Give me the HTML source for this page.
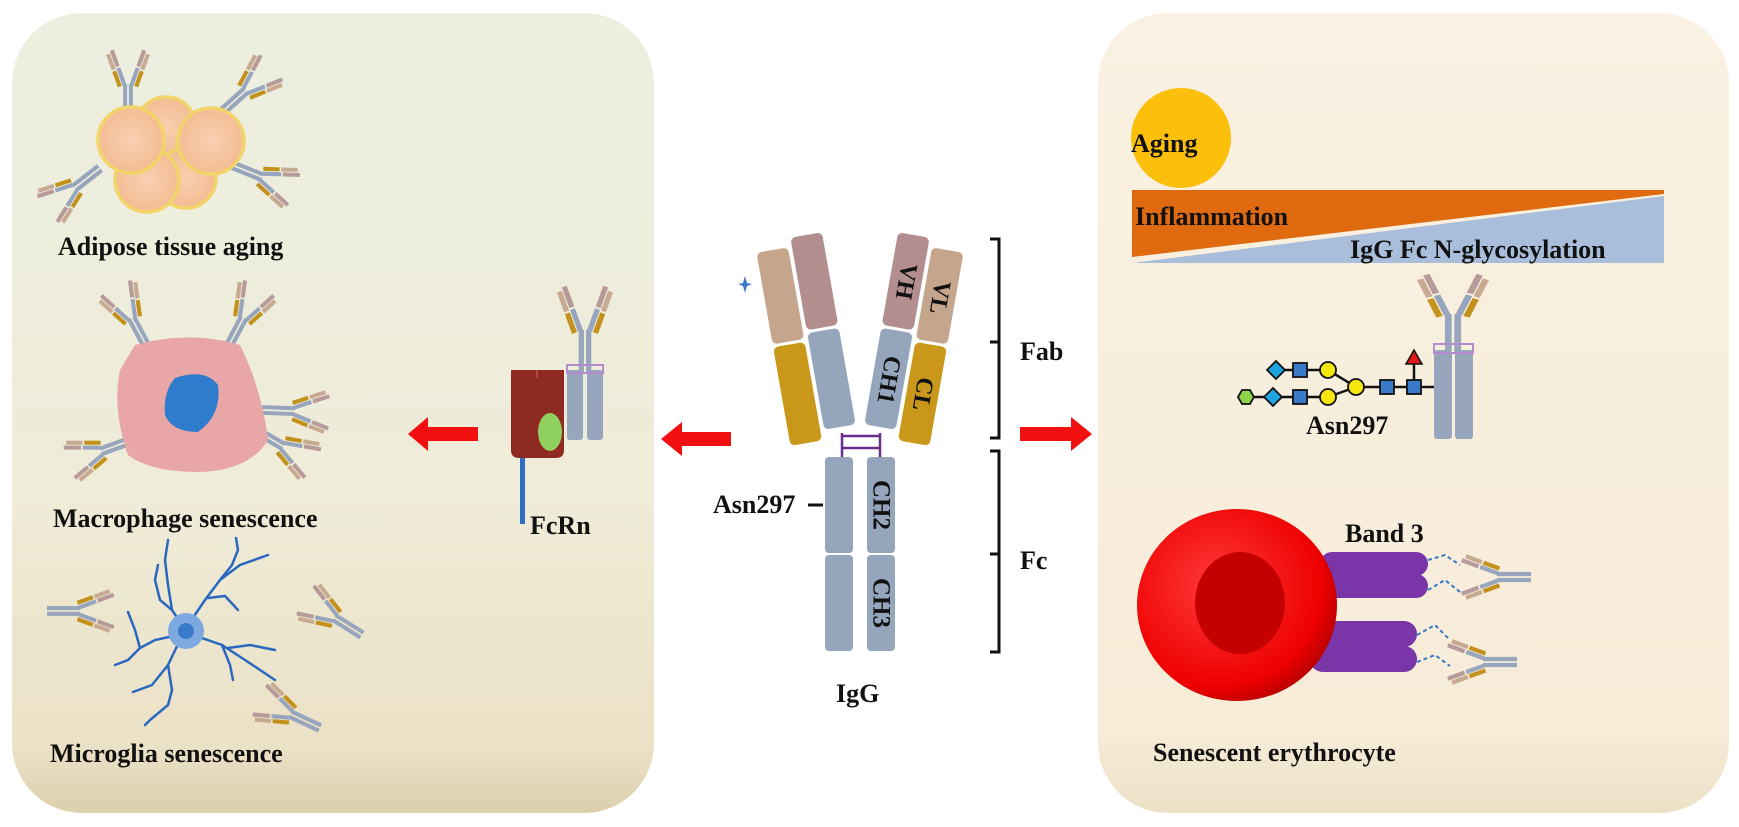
<!DOCTYPE html>
<html><head><meta charset="utf-8"><style>
html,body{margin:0;padding:0;background:#fff;}
svg{display:block;}
text{font-family:"Liberation Serif",serif;font-weight:bold;fill:#111;}
</style></head><body>
<svg width="1739" height="827" viewBox="0 0 1739 827" xmlns="http://www.w3.org/2000/svg">
<defs>
<linearGradient id="lg" x1="0" y1="0" x2="0" y2="1">
<stop offset="0" stop-color="#ecefe0"/><stop offset="0.6" stop-color="#efecd8"/><stop offset="0.92" stop-color="#ebe1c6"/><stop offset="1" stop-color="#dccfad"/>
</linearGradient>
<linearGradient id="rg" x1="0" y1="0" x2="0" y2="1">
<stop offset="0" stop-color="#fbf1e2"/><stop offset="0.9" stop-color="#f6ecd8"/><stop offset="1" stop-color="#ece0c6"/>
</linearGradient>
<radialGradient id="rbc" cx="0.4" cy="0.4" r="0.7">
<stop offset="0" stop-color="#ff3a3a"/><stop offset="0.75" stop-color="#ee0000"/><stop offset="1" stop-color="#a00000"/>
</radialGradient>
<radialGradient id="fat" cx="0.5" cy="0.5" r="0.6">
<stop offset="0" stop-color="#f8cfb3"/><stop offset="1" stop-color="#f3b98d"/>
</radialGradient>
<g id="ab">
 <rect x="-6" y="-40" width="5" height="40" fill="#97a6bd"/>
 <rect x="1" y="-40" width="5" height="40" fill="#97a6bd"/>
 <g transform="translate(-2,-40) rotate(-20)">
  <rect x="-5" y="-22" width="5" height="22" fill="#97a6bd"/>
  <rect x="-5" y="-45" width="5" height="21" fill="#b79b9b"/>
  <rect x="-11" y="-20" width="5" height="20" fill="#c4911c"/>
  <rect x="-11" y="-42" width="5" height="20" fill="#c8aa92"/>
 </g>
 <g transform="translate(2,-40) rotate(20)">
  <rect x="0" y="-22" width="5" height="22" fill="#97a6bd"/>
  <rect x="0" y="-45" width="5" height="21" fill="#b79b9b"/>
  <rect x="6" y="-20" width="5" height="20" fill="#c4911c"/>
  <rect x="6" y="-42" width="5" height="20" fill="#c8aa92"/>
 </g>
</g>
</defs>

<!-- panels -->
<rect x="12" y="13" width="642" height="800" rx="70" fill="url(#lg)"/>
<rect x="1098" y="13" width="631" height="800" rx="70" fill="url(#rg)"/>

<!-- adipose -->
<use href="#ab" transform="translate(128,117) scale(0.82)"/>
<use href="#ab" transform="translate(222,112) rotate(48) scale(0.82)"/>
<use href="#ab" transform="translate(232,165) rotate(112) scale(0.82)"/>
<use href="#ab" transform="translate(100,168) rotate(-128) scale(0.82)"/>
<g stroke="#f2d46a" stroke-width="3.5" fill="url(#fat)">
<circle cx="166" cy="127" r="30"/>
<circle cx="186" cy="178" r="30"/>
<circle cx="147" cy="180" r="32"/>
<circle cx="131" cy="140" r="33"/>
<circle cx="211" cy="141" r="33"/>
</g>
<text x="58" y="255" font-size="26">Adipose tissue aging</text>

<!-- macrophage -->
<use href="#ab" transform="translate(147,347) rotate(-28) scale(0.82)"/>
<use href="#ab" transform="translate(228,347) rotate(28) scale(0.82)"/>
<use href="#ab" transform="translate(262,410) rotate(92) scale(0.82)"/>
<use href="#ab" transform="translate(255,430) rotate(120) scale(0.82)"/>
<use href="#ab" transform="translate(132,440) rotate(-110) scale(0.82)"/>
<path d="M135 345 Q190 330 240 345 Q262 390 268 440 Q250 470 200 472 Q150 472 128 455 Q112 410 120 370 Z" fill="#e8a6a6"/>
<path d="M175 378 Q205 368 218 385 Q222 415 198 432 Q172 432 165 415 Q163 392 175 378 Z" fill="#2f7ccc"/>
<text x="53" y="527" font-size="26">Macrophage senescence</text>

<!-- microglia -->
<g stroke="#2a68c0" stroke-width="2.5" fill="none" stroke-linecap="round">
<path d="M186 631 L172 610 L168 585 L165 560 L168 540"/>
<path d="M172 610 L160 600 L155 580 L158 565"/>
<path d="M186 628 L205 600 L220 580 L240 565 L268 555"/>
<path d="M220 580 L232 565 L238 550 L236 538"/>
<path d="M208 598 L225 596 L238 610"/>
<path d="M178 635 L155 640 L140 648 L128 660 L115 665"/>
<path d="M140 648 L135 630 L128 612"/>
<path d="M180 640 L168 665 L152 685 L133 692"/>
<path d="M168 665 L172 690 L168 705 L150 720 L145 725"/>
<path d="M196 636 L222 645 L245 660 L275 680"/>
<path d="M228 648 L250 645 L275 650"/>
<path d="M222 645 L230 665 L233 680"/>
</g>
<circle cx="186" cy="631" r="18" fill="#7ea9e0"/>
<circle cx="186" cy="631" r="8" fill="#3a7acb"/>
<use href="#ab" transform="translate(47,611) rotate(90) scale(0.82)"/>
<use href="#ab" transform="translate(362,635) rotate(-58) scale(0.82)"/>
<use href="#ab" transform="translate(320,728) rotate(-65) scale(0.82)"/>
<text x="50" y="762" font-size="26">Microglia senescence</text>

<!-- FcRn -->
<use href="#ab" transform="translate(585,372) scale(1.05)"/>
<rect x="567" y="370" width="16" height="70" rx="3" fill="#97a6bd"/>
<rect x="587" y="370" width="16" height="70" rx="3" fill="#97a6bd"/>
<rect x="567" y="365" width="36" height="8" fill="none" stroke="#b58bd0" stroke-width="2"/>
<path d="M511 370 L564 370 L564 450 Q564 458 556 458 L519 458 Q511 458 511 450 Z" fill="#8e2a22"/>
<line x1="537" y1="370" x2="537" y2="378" stroke="#b04a40" stroke-width="2"/>
<rect x="520" y="458" width="5" height="66" fill="#2f6fbf"/>
<ellipse cx="550" cy="432" rx="12" ry="19" fill="#8fd060"/>
<text x="530" y="534" font-size="26">FcRn</text>

<!-- arrows -->
<polygon points="478,427 428,427 428,417 408,434 428,451 428,441 478,441" fill="#f20f0f"/>
<polygon points="731,432 682,432 682,422 661,439 682,456 682,446 731,446" fill="#f20f0f"/>
<polygon points="1020,427 1071,427 1071,417 1092,434 1071,451 1071,441 1020,441" fill="#f20f0f"/>

<!-- central IgG -->
<g transform="translate(824,440) rotate(-10)">
 <rect x="-34" y="-100" width="32" height="100" rx="5" fill="#c9981a"/>
 <rect x="-34" y="-196" width="32" height="93" rx="5" fill="#c5a58c"/>
 <rect x="2" y="-108" width="32" height="98" rx="5" fill="#95a5bb"/>
 <rect x="2" y="-205" width="32" height="94" rx="5" fill="#b38e8e"/>
</g>
<g transform="translate(896,440) rotate(10)">
 <rect x="2" y="-100" width="32" height="100" rx="5" fill="#c9981a"/>
 <rect x="2" y="-196" width="32" height="93" rx="5" fill="#c5a58c"/>
 <rect x="-34" y="-108" width="32" height="98" rx="5" fill="#95a5bb"/>
 <rect x="-34" y="-205" width="32" height="94" rx="5" fill="#b38e8e"/>
 <text transform="translate(-18,-158) rotate(90)" font-size="24" text-anchor="middle" dominant-baseline="central">VH</text>
 <text transform="translate(18,-148) rotate(90)" font-size="24" text-anchor="middle" dominant-baseline="central">VL</text>
 <text transform="translate(-18,-58) rotate(90)" font-size="24" text-anchor="middle" dominant-baseline="central">CH1</text>
 <text transform="translate(18,-50) rotate(90)" font-size="24" text-anchor="middle" dominant-baseline="central">CL</text>
</g>
<g stroke="#6a2c8c" stroke-width="2.5" fill="none">
<line x1="842" y1="433" x2="842" y2="458"/><line x1="880" y1="433" x2="880" y2="458"/>
<line x1="842" y1="436" x2="880" y2="436"/><line x1="842" y1="448" x2="880" y2="448"/>
</g>
<rect x="825" y="457" width="28" height="96" rx="4" fill="#95a5bb"/>
<rect x="825" y="555" width="28" height="96" rx="4" fill="#95a5bb"/>
<rect x="867" y="457" width="28" height="96" rx="4" fill="#95a5bb"/>
<rect x="867" y="555" width="28" height="96" rx="4" fill="#95a5bb"/>
<text transform="translate(881,505) rotate(90)" font-size="25" text-anchor="middle" dominant-baseline="central">CH2</text>
<text transform="translate(881,603) rotate(90)" font-size="25" text-anchor="middle" dominant-baseline="central">CH3</text>
<text x="713" y="513" font-size="26">Asn297</text>
<line x1="808" y1="505" x2="823" y2="505" stroke="#111" stroke-width="3"/>
<path d="M745 276 L747 283 L752 284 L747 286 L745 293 L743 286 L738 284 L743 283 Z" fill="#3a79c9"/>
<g stroke="#111" stroke-width="3" fill="none">
<path d="M990 239 L999 239 L999 438 L990 438"/><line x1="990" y1="342" x2="999" y2="342"/>
<path d="M990 451 L999 451 L999 652 L990 652"/><line x1="990" y1="554" x2="999" y2="554"/>
</g>
<text x="1020" y="360" font-size="26">Fab</text>
<text x="1020" y="569" font-size="26">Fc</text>
<text x="836" y="702" font-size="26">IgG</text>

<!-- right panel -->
<circle cx="1181" cy="138" r="50" fill="#fcbf0c"/>
<text x="1131" y="152" font-size="26">Aging</text>
<polygon points="1132,190 1664,190 1664,194 1132,257" fill="#e06a10"/>
<polygon points="1132,263 1664,196 1664,263" fill="#a9bedb"/>
<text x="1135" y="225" font-size="26">Inflammation</text>
<text x="1350" y="258" font-size="26">IgG Fc N-glycosylation</text>

<use href="#ab" transform="translate(1453,352) scale(1.35,0.95)"/>
<rect x="1434" y="350" width="18" height="89" rx="3" fill="#97a6bd"/>
<rect x="1455" y="350" width="18" height="89" rx="3" fill="#97a6bd"/>
<rect x="1434" y="344" width="39" height="9" fill="none" stroke="#b58bd0" stroke-width="2"/>
<!-- glycan -->
<g stroke="#111" stroke-width="2.5">
<line x1="1245" y1="397" x2="1330" y2="397"/>
<line x1="1276" y1="370" x2="1330" y2="370"/>
<line x1="1328" y1="370" x2="1356" y2="387"/>
<line x1="1328" y1="397" x2="1356" y2="387"/>
<line x1="1356" y1="387" x2="1434" y2="387"/>
<line x1="1414" y1="387" x2="1414" y2="364"/>
</g>
<polygon points="1414,350 1422,364 1406,364" fill="#e01818" stroke="#111" stroke-width="1.5"/>
<g stroke="#111" stroke-width="1.8">
<polygon points="1238,397 1242,390 1250,390 1254,397 1250,404 1242,404" fill="#8ed44a"/>
<polygon points="1273,388 1282,397 1273,406 1264,397" fill="#1fa3e0"/>
<polygon points="1276,361 1285,370 1276,379 1267,370" fill="#1fa3e0"/>
<rect x="1293" y="363" width="14" height="14" fill="#3a78c8"/>
<rect x="1293" y="390" width="14" height="14" fill="#3a78c8"/>
<circle cx="1328" cy="370" r="8" fill="#f5e60e"/>
<circle cx="1328" cy="397" r="8" fill="#f5e60e"/>
<circle cx="1356" cy="387" r="8" fill="#f5e60e"/>
<rect x="1380" y="380" width="14" height="14" fill="#3a78c8"/>
<rect x="1407" y="380" width="14" height="14" fill="#3a78c8"/>
</g>
<text x="1306" y="434" font-size="26">Asn297</text>

<!-- erythrocyte -->
<rect x="1320" y="552" width="108" height="24" rx="12" fill="#7a35a8"/>
<rect x="1320" y="574" width="108" height="24" rx="12" fill="#7a35a8"/>
<rect x="1310" y="621" width="107" height="26" rx="13" fill="#7a35a8"/>
<rect x="1310" y="646" width="107" height="26" rx="13" fill="#7a35a8"/>
<ellipse cx="1237" cy="605" rx="100" ry="96" fill="url(#rbc)"/>
<ellipse cx="1240" cy="603" rx="45" ry="51" fill="#c40000"/>
<text x="1345" y="542" font-size="26">Band 3</text>
<g stroke="#3a78c8" stroke-width="2" stroke-dasharray="4,3" fill="none">
<path d="M1428 560 L1445 555 L1460 565"/><path d="M1428 590 L1445 580 L1460 592"/>
<path d="M1417 635 L1435 625 L1450 640"/><path d="M1417 662 L1435 655 L1450 666"/>
</g>
<use href="#ab" transform="translate(1531,577) rotate(-90) scale(0.85)"/>
<use href="#ab" transform="translate(1517,662) rotate(-90) scale(0.85)"/>
<text x="1153" y="761" font-size="26">Senescent erythrocyte</text>
</svg>
</body></html>
